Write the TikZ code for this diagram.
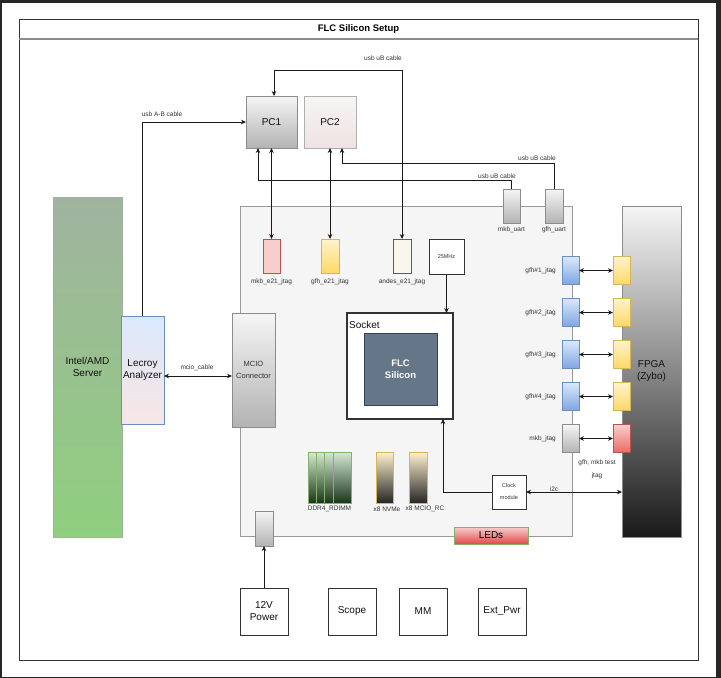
\documentclass[tikz,border=0pt]{standalone}
\usepackage{fontspec}
\setmainfont{Liberation Sans}
\usepackage{tikz}
\usetikzlibrary{arrows.meta}
\usetikzlibrary{calc}
\definecolor{bgdark}{HTML}{262626}
\definecolor{txtgrey}{HTML}{333333}
\definecolor{txtdark}{HTML}{111111}
\definecolor{wire}{HTML}{1A1A1A}
\definecolor{boardfill}{HTML}{F5F5F5}
\definecolor{boardline}{HTML}{9A9A9A}
\definecolor{greyline}{HTML}{8C8C8C}
\definecolor{greytop}{HTML}{F5F5F5}
\definecolor{greybot}{HTML}{B3B3B3}
\definecolor{pinktop}{HTML}{F7F5F5}
\definecolor{pinkbot}{HTML}{EFE2E2}
\definecolor{redfill}{HTML}{F8CECC}
\definecolor{redbot}{HTML}{EA6B66}
\definecolor{redline}{HTML}{B85450}
\definecolor{yeltop}{HTML}{FFF2CC}
\definecolor{yelbot}{HTML}{FFD966}
\definecolor{yelline}{HTML}{D6B656}
\definecolor{bluetop}{HTML}{DAE8FC}
\definecolor{bluebot}{HTML}{7EA6E0}
\definecolor{blueline}{HTML}{6C8EBF}
\definecolor{greenline}{HTML}{82B366}
\definecolor{greentop}{HTML}{D5E8D4}
\definecolor{srvtop}{HTML}{A0B39F}
\definecolor{srvbot}{HTML}{90CF7E}
\definecolor{ddrbot}{HTML}{1B361B}
\definecolor{andesfill}{HTML}{F9F7ED}
\definecolor{siliconfill}{HTML}{647687}
\definecolor{siliconline}{HTML}{314354}
\definecolor{ledbot}{HTML}{E04848}
\tikzstyle{blk}=[draw=txtgrey, line width=0.8pt, inner sep=0pt, outer sep=0pt, align=center, text=txtdark, font=\fontsize{10}{12}\selectfont]
\tikzstyle{greyblk}=[blk, draw=greyline, top color=greytop, bottom color=greybot]
\tikzstyle{pinkblk}=[blk, draw=greyline!70, top color=pinktop, bottom color=pinkbot]
\tikzstyle{redflat}=[blk, draw=redline, fill=redfill]
\tikzstyle{redblk}=[blk, draw=redline, top color=redfill, bottom color=redbot]
\tikzstyle{yellowblk}=[blk, draw=yelline, top color=yeltop, bottom color=yelbot]
\tikzstyle{blueblk}=[blk, draw=blueline, top color=bluetop, bottom color=bluebot]
\tikzstyle{whiteblk}=[blk, fill=white]
\tikzstyle{lbl}=[inner sep=0pt, text=txtgrey, font=\fontsize{6.5}{7.5}\selectfont]
\tikzstyle{wirestyle}=[line width=0.8pt, draw=wire]
\newcommand{\bx}[7]{
 \node[#1, minimum width=#5pt, minimum height=#6pt] (#2) at (#3,#4) {#7};
}
\newcommand{\jtagpair}[5]{
 \bx{#3}{gj#1}{570.5}{#2}{17}{28}{}
 \bx{#4}{fj#1}{621.5}{#2}{17}{28}{}
 \node[lbl, anchor=east] (gjl#1) at ($(gj#1.west)+(-6,0)$) {#5};
 \draw[wirestyle, <->] (gj#1) -- (fj#1);
}

\begin{document}
\begin{tikzpicture}[x=1pt, y=-1pt, >={Stealth[length=5pt,width=4.5pt]}]
 \useasboundingbox (0,0) rectangle (721,678);
 \fill[bgdark] (0,0) rectangle (721,678);
 \fill[white] (2,3) rectangle (716,677);
 \draw[txtgrey, line width=0.8pt] (19,19) rectangle (698,660);
 \draw[greyline, line width=1.5pt] (19,39) -- (698,39);
 \node[font=\bfseries\fontsize{9.5}{11}\selectfont] (title) at (358.5,29) {FLC Silicon Setup};
%
 \bx{greyblk}{pc1}{271.5}{122}{51}{52}{PC1}
 \bx{pinkblk}{pc2}{330}{122}{52}{52}{PC2}
 \bx{blk, draw=srvtop, top color=srvtop, bottom color=srvbot}{server}{87.5}{367}{69}{340}{Intel/AMD\\Server}
 \bx{blk, draw=blueline, top color=bluetop, bottom color=pinktop!60!redfill}{lecroy}{142.5}{370}{43}{108}{Lecroy\\Analyzer}
%
 \bx{blk, draw=boardline, fill=boardfill}{board}{406}{371}{332}{330}{}
 \bx{blk, draw=greyline, top color=greytop, bottom color=black!90}{fpga}{651.5}{371.5}{59}{331}{FPGA\\(Zybo)}
 \bx{greyblk, text=txtgrey, font=\fontsize{7.5}{12.5}\selectfont}{mcio}{253.5}{370}{43}{114}{MCIO\\Connector}
 \bx{greyblk}{mkbuart}{511.5}{206}{17}{34}{}
 \bx{greyblk}{gfhuart}{554}{206}{18}{34}{}
 \bx{redflat}{mkbe21}{271.5}{256}{17}{34}{}
 \bx{yellowblk}{gfhe21}{330}{256}{18}{34}{}
 \bx{blk, draw=txtgrey!80, fill=andesfill}{andes}{402}{256}{18}{34}{}
 \bx{whiteblk, text=txtgrey, font=\fontsize{5.5}{6.5}\selectfont}{osc}{446.5}{256.5}{35}{35}{25MHz}
 \bx{whiteblk, line width=1.2pt}{socket}{400}{366}{106}{106}{}
 \bx{blk, draw=siliconline, fill=siliconfill, text=white, font=\bfseries\fontsize{9.5}{12}\selectfont}{silicon}{400.5}{369}{73}{72}{FLC\\Silicon}
 \node[anchor=base west, inner sep=0pt, text=txtdark, font=\fontsize{10}{12}\selectfont] (socketlbl) at (349,328) {Socket};
 \bx{whiteblk, text=txtgrey, font=\fontsize{5.5}{12}\selectfont}{clkmod}{509}{492}{34}{34}{Clock\\module}
%
 \bx{blk, draw=greenline, top color=greentop, bottom color=ddrbot}{ddr1}{317}{477.5}{18}{51}{}
 \bx{blk, draw=greenline, top color=greentop, bottom color=ddrbot}{ddr2}{325}{477.5}{18}{51}{}
 \bx{blk, draw=greenline, top color=greentop, bottom color=ddrbot}{ddr3}{333.5}{477.5}{18}{51}{}
 \bx{blk, draw=greenline, top color=greentop, bottom color=ddrbot}{ddr4}{342}{477.5}{18}{51}{}
 \bx{blk, draw=yelline, top color=yeltop, bottom color=black!85}{nvme}{384.5}{477.5}{17}{51}{}
 \bx{blk, draw=yelline, top color=yeltop, bottom color=black!85}{mciorc}{418}{477.5}{18}{51}{}
 \bx{blk, draw=greenline, top color=redfill, bottom color=ledbot, text=black}{leds}{491}{535.5}{74}{17}{LEDs}
 \bx{greyblk}{pwrcon}{264}{528.5}{18}{35}{}
%
 \bx{whiteblk}{p12v}{264}{611.5}{48}{47}{12V\\Power}
 \bx{whiteblk}{scope}{352}{611.5}{48}{47}{Scope}
 \bx{whiteblk}{mm}{423}{611.5}{48}{47}{MM}
 \bx{whiteblk}{extpwr}{502}{611.5}{48}{47}{Ext\_Pwr}
%
 \jtagpair{1}{270.5}{blueblk}{yellowblk}{gfh\#1\_jtag}
 \jtagpair{2}{312.5}{blueblk}{yellowblk}{gfh\#2\_jtag}
 \jtagpair{3}{354.5}{blueblk}{yellowblk}{gfh\#3\_jtag}
 \jtagpair{4}{396.5}{blueblk}{yellowblk}{gfh\#4\_jtag}
 \jtagpair{5}{438.5}{greyblk}{redblk}{mkb\_jtag}
%
 \coordinate (andesup) at (402,70);
 \draw[wirestyle, <->] (andes.north) -- (andesup) -| ($(pc1.north)+(2.5,0)$);
 \draw[wirestyle, ->] (lecroy.north) |- (pc1.west);
 \draw[wirestyle, ->] (mkbuart.north) -- ++(0,-9) -| ($(pc1.south)+(-13.5,0)$);
 \draw[wirestyle, <->] (mkbe21.north) -- (mkbe21.north |- pc1.south);
 \draw[wirestyle, <->] (gfhe21.north) -- (gfhe21.north |- pc2.south);
 \draw[wirestyle, ->] (gfhuart.north) -- ++(0,-26) -| ($(pc2.south)+(12,0)$);
 \draw[wirestyle, <->] ($(lecroy.east)+(0,6)$) -- ($(mcio.west)+(0,6)$);
 \draw[wirestyle, ->] (osc.south) -- (osc.south |- socket.north);
 \draw[wirestyle, ->] (clkmod.west) -| ($(socket.south)+(43,0)$);
 \draw[wirestyle, <->] (clkmod.east) -- (clkmod.east -| fpga.west);
 \draw[wirestyle, ->] (p12v.north) -- (pwrcon.south);
%
 \node[lbl] (usbtop) at (383,58) {usb uB cable};
 \node[lbl] (usbab) at (162,114) {usb A-B cable};
 \node[lbl] (usbgfh) at (537,158) {usb uB cable};
 \node[lbl] (usbmkb) at (497,176) {usb uB cable};
 \node[lbl] (mkbuartlbl) at (511.5,230) {mkb\_uart};
 \node[lbl] (gfhuartlbl) at (554,230) {gfh\_uart};
 \node[lbl] (mkbe21lbl) at (271.5,282) {mkb\_e21\_jtag};
 \node[lbl] (gfhe21lbl) at (330,282) {gfh\_e21\_jtag};
 \node[lbl] (andeslbl) at (402,282) {andes\_e21\_jtag};
 \node[lbl] (mciocbl) at (197,368) {mcio\_cable};
 \node[lbl] (i2clbl) at (554,489) {i2c};
 \node[lbl, align=center, font=\fontsize{6.5}{13}\selectfont] (testlbl) at (597,469.5) {gfh, mkb test\\jtag};
 \node[lbl] (ddrlbl) at (329.5,509) {DDR4\_RDIMM};
 \node[lbl] (nvmelbl) at (387,509) {x8 NVMe};
 \node[lbl] (mciorclbl) at (425,509) {x8 MCIO\_RC};
\end{tikzpicture}
\end{document}
